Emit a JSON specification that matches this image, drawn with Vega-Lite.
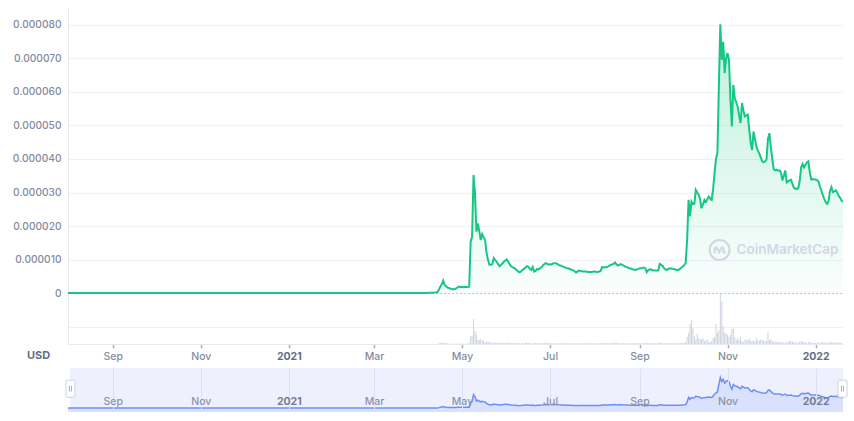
{
"$schema": "https://vega.github.io/schema/vega-lite/v6.json",
"autosize": {"type": "none"},
"width": 775,
"height": 404,
"padding": {"left": 68, "top": 8, "right": 11, "bottom": 9},
"background": "white",
"config": {"font": "Inter", "view": {"stroke": null}},
"datasets": {
"price": [
{"d":"2020-08-01","p":1e-9},{"d":"2020-08-15","p":2e-9},{"d":"2020-09-01","p":2e-9},{"d":"2020-09-15","p":1e-9},{"d":"2020-10-01","p":1e-9},{"d":"2020-10-15","p":1e-9},{"d":"2020-11-01","p":1e-9},{"d":"2020-11-15","p":1e-9},{"d":"2020-12-01","p":1e-9},{"d":"2020-12-15","p":1e-9},{"d":"2021-01-01","p":2e-9},{"d":"2021-01-15","p":3e-9},{"d":"2021-02-01","p":1e-8},{"d":"2021-02-15","p":1.5e-8},{"d":"2021-03-01","p":1e-8},{"d":"2021-03-15","p":1.2e-8},{"d":"2021-04-01","p":2e-8},{"d":"2021-04-05","p":3e-8},{"d":"2021-04-08","p":5e-8},{"d":"2021-04-10","p":8e-8},{"d":"2021-04-12","p":1.5e-7},{"d":"2021-04-13","p":2e-7},{"d":"2021-04-14","p":3e-7},
{"d":"2021-04-15","p":1.0e-6},{"d":"2021-04-16","p":1.9e-6},{"d":"2021-04-17","p":2.6e-6},{"d":"2021-04-18","p":3.7e-6},{"d":"2021-04-19","p":2.4e-6},{"d":"2021-04-20","p":2.0e-6},{"d":"2021-04-21","p":1.6e-6},{"d":"2021-04-22","p":1.5e-6},{"d":"2021-04-23","p":1.3e-6},{"d":"2021-04-24","p":1.2e-6},{"d":"2021-04-25","p":1.1e-6},{"d":"2021-04-26","p":1.2e-6},{"d":"2021-04-27","p":1.4e-6},{"d":"2021-04-28","p":1.7e-6},{"d":"2021-04-29","p":1.9e-6},{"d":"2021-04-30","p":1.8e-6},
{"d":"2021-05-01","p":1.8e-6},{"d":"2021-05-02","p":1.7e-6},{"d":"2021-05-03","p":1.8e-6},{"d":"2021-05-04","p":1.8e-6},{"d":"2021-05-05","p":1.7e-6},{"d":"2021-05-06","p":1.9e-6},{"d":"2021-05-07","p":15.3e-6},{"d":"2021-05-08","p":16.8e-6},{"d":"2021-05-09","p":35.2e-6},{"d":"2021-05-10","p":29.8e-6},{"d":"2021-05-11","p":18.3e-6},{"d":"2021-05-12","p":20.8e-6},{"d":"2021-05-13","p":18.3e-6},{"d":"2021-05-14","p":15.8e-6},{"d":"2021-05-15","p":17.6e-6},{"d":"2021-05-16","p":16.6e-6},{"d":"2021-05-17","p":15.8e-6},{"d":"2021-05-18","p":12.0e-6},{"d":"2021-05-19","p":9.9e-6},{"d":"2021-05-20","p":8.4e-6},{"d":"2021-05-21","p":8.4e-6},{"d":"2021-05-22","p":8.6e-6},{"d":"2021-05-23","p":10.4e-6},{"d":"2021-05-24","p":9.8e-6},{"d":"2021-05-25","p":9.4e-6},{"d":"2021-05-26","p":8.6e-6},{"d":"2021-05-27","p":8.0e-6},{"d":"2021-05-28","p":8.4e-6},{"d":"2021-05-29","p":8.8e-6},{"d":"2021-05-30","p":9.3e-6},{"d":"2021-05-31","p":9.7e-6},
{"d":"2021-06-01","p":10.0e-6},{"d":"2021-06-02","p":9.4e-6},{"d":"2021-06-03","p":8.6e-6},{"d":"2021-06-04","p":8.0e-6},{"d":"2021-06-05","p":7.7e-6},{"d":"2021-06-06","p":7.5e-6},{"d":"2021-06-07","p":7.2e-6},{"d":"2021-06-08","p":6.8e-6},{"d":"2021-06-09","p":6.4e-6},{"d":"2021-06-10","p":6.2e-6},{"d":"2021-06-11","p":6.5e-6},{"d":"2021-06-12","p":6.9e-6},{"d":"2021-06-13","p":7.2e-6},{"d":"2021-06-14","p":7.6e-6},{"d":"2021-06-15","p":8.0e-6},{"d":"2021-06-16","p":7.8e-6},{"d":"2021-06-17","p":7.2e-6},{"d":"2021-06-18","p":6.9e-6},{"d":"2021-06-19","p":7.8e-6},{"d":"2021-06-20","p":6.4e-6},{"d":"2021-06-21","p":6.6e-6},{"d":"2021-06-22","p":7.2e-6},{"d":"2021-06-23","p":7.0e-6},{"d":"2021-06-24","p":7.4e-6},{"d":"2021-06-25","p":7.6e-6},{"d":"2021-06-26","p":8.2e-6},{"d":"2021-06-27","p":8.6e-6},{"d":"2021-06-28","p":8.9e-6},{"d":"2021-06-29","p":8.7e-6},{"d":"2021-06-30","p":8.5e-6},
{"d":"2021-07-01","p":8.6e-6},{"d":"2021-07-02","p":8.5e-6},{"d":"2021-07-03","p":8.8e-6},{"d":"2021-07-04","p":8.9e-6},{"d":"2021-07-05","p":8.9e-6},{"d":"2021-07-06","p":8.7e-6},{"d":"2021-07-07","p":8.4e-6},{"d":"2021-07-08","p":8.2e-6},{"d":"2021-07-09","p":8.1e-6},{"d":"2021-07-10","p":7.9e-6},{"d":"2021-07-11","p":7.7e-6},{"d":"2021-07-12","p":7.5e-6},{"d":"2021-07-13","p":7.4e-6},{"d":"2021-07-14","p":7.3e-6},{"d":"2021-07-15","p":7.1e-6},{"d":"2021-07-16","p":6.9e-6},{"d":"2021-07-17","p":6.8e-6},{"d":"2021-07-18","p":6.5e-6},{"d":"2021-07-19","p":6.1e-6},{"d":"2021-07-20","p":6.4e-6},{"d":"2021-07-21","p":6.7e-6},{"d":"2021-07-22","p":6.6e-6},{"d":"2021-07-23","p":6.5e-6},{"d":"2021-07-24","p":6.4e-6},{"d":"2021-07-25","p":6.4e-6},{"d":"2021-07-26","p":6.4e-6},{"d":"2021-07-27","p":6.3e-6},{"d":"2021-07-28","p":6.3e-6},{"d":"2021-07-29","p":6.3e-6},{"d":"2021-07-30","p":6.3e-6},{"d":"2021-07-31","p":6.4e-6},
{"d":"2021-08-01","p":6.4e-6},{"d":"2021-08-02","p":6.3e-6},{"d":"2021-08-03","p":6.3e-6},{"d":"2021-08-04","p":6.4e-6},{"d":"2021-08-05","p":6.5e-6},{"d":"2021-08-06","p":7.7e-6},{"d":"2021-08-07","p":7.6e-6},{"d":"2021-08-08","p":7.7e-6},{"d":"2021-08-09","p":7.7e-6},{"d":"2021-08-10","p":7.9e-6},{"d":"2021-08-11","p":8.1e-6},{"d":"2021-08-12","p":8.4e-6},{"d":"2021-08-13","p":8.5e-6},{"d":"2021-08-14","p":8.7e-6},{"d":"2021-08-15","p":9.1e-6},{"d":"2021-08-16","p":8.6e-6},{"d":"2021-08-17","p":8.2e-6},{"d":"2021-08-18","p":8.4e-6},{"d":"2021-08-19","p":8.6e-6},{"d":"2021-08-20","p":8.4e-6},{"d":"2021-08-21","p":8.2e-6},{"d":"2021-08-22","p":7.9e-6},{"d":"2021-08-23","p":7.8e-6},{"d":"2021-08-24","p":7.6e-6},{"d":"2021-08-25","p":7.4e-6},{"d":"2021-08-26","p":7.3e-6},{"d":"2021-08-27","p":7.1e-6},{"d":"2021-08-28","p":7.0e-6},{"d":"2021-08-29","p":6.9e-6},{"d":"2021-08-30","p":7.0e-6},{"d":"2021-08-31","p":7.2e-6},
{"d":"2021-09-01","p":7.3e-6},{"d":"2021-09-02","p":7.4e-6},{"d":"2021-09-03","p":7.5e-6},{"d":"2021-09-04","p":7.6e-6},{"d":"2021-09-05","p":7.4e-6},{"d":"2021-09-06","p":6.2e-6},{"d":"2021-09-07","p":6.8e-6},{"d":"2021-09-08","p":7.1e-6},{"d":"2021-09-09","p":7.0e-6},{"d":"2021-09-10","p":6.8e-6},{"d":"2021-09-11","p":6.7e-6},{"d":"2021-09-12","p":6.7e-6},{"d":"2021-09-13","p":6.7e-6},{"d":"2021-09-14","p":6.7e-6},{"d":"2021-09-15","p":8.7e-6},{"d":"2021-09-16","p":8.4e-6},{"d":"2021-09-17","p":8.1e-6},{"d":"2021-09-18","p":7.4e-6},{"d":"2021-09-19","p":7.0e-6},{"d":"2021-09-20","p":6.9e-6},{"d":"2021-09-21","p":7.2e-6},{"d":"2021-09-22","p":7.4e-6},{"d":"2021-09-23","p":7.3e-6},{"d":"2021-09-24","p":7.2e-6},{"d":"2021-09-25","p":7.1e-6},{"d":"2021-09-26","p":7.0e-6},{"d":"2021-09-27","p":6.9e-6},{"d":"2021-09-28","p":6.9e-6},{"d":"2021-09-29","p":7.2e-6},{"d":"2021-09-30","p":7.6e-6},
{"d":"2021-10-01","p":7.9e-6},{"d":"2021-10-02","p":8.3e-6},{"d":"2021-10-03","p":9.0e-6},{"d":"2021-10-04","p":16.0e-6},{"d":"2021-10-05","p":27.8e-6},{"d":"2021-10-06","p":22.9e-6},{"d":"2021-10-07","p":27.3e-6},{"d":"2021-10-08","p":26.5e-6},{"d":"2021-10-09","p":26.6e-6},{"d":"2021-10-10","p":30.8e-6},{"d":"2021-10-11","p":30.0e-6},{"d":"2021-10-12","p":29.3e-6},{"d":"2021-10-13","p":28.0e-6},{"d":"2021-10-14","p":25.3e-6},{"d":"2021-10-15","p":26.5e-6},{"d":"2021-10-16","p":27.8e-6},{"d":"2021-10-17","p":27.2e-6},{"d":"2021-10-18","p":28.0e-6},{"d":"2021-10-19","p":28.8e-6},{"d":"2021-10-20","p":28.2e-6},{"d":"2021-10-21","p":27.8e-6},{"d":"2021-10-22","p":31.0e-6},{"d":"2021-10-23","p":35.8e-6},{"d":"2021-10-24","p":40.0e-6},{"d":"2021-10-25","p":42.0e-6},{"d":"2021-10-26","p":62.0e-6},{"d":"2021-10-27","p":80.2e-6},{"d":"2021-10-28","p":69.6e-6},{"d":"2021-10-29","p":75.0e-6},{"d":"2021-10-30","p":65.6e-6},{"d":"2021-10-31","p":70.0e-6},
{"d":"2021-11-01","p":71.6e-6},{"d":"2021-11-02","p":69.6e-6},{"d":"2021-11-03","p":57.7e-6},{"d":"2021-11-04","p":49.7e-6},{"d":"2021-11-05","p":62.1e-6},{"d":"2021-11-06","p":58.2e-6},{"d":"2021-11-07","p":57.0e-6},{"d":"2021-11-08","p":55.7e-6},{"d":"2021-11-09","p":53.0e-6},{"d":"2021-11-10","p":50.7e-6},{"d":"2021-11-11","p":56.7e-6},{"d":"2021-11-12","p":54.5e-6},{"d":"2021-11-13","p":52.7e-6},{"d":"2021-11-14","p":53.0e-6},{"d":"2021-11-15","p":53.2e-6},{"d":"2021-11-16","p":49.0e-6},{"d":"2021-11-17","p":45.0e-6},{"d":"2021-11-18","p":42.7e-6},{"d":"2021-11-19","p":48.2e-6},{"d":"2021-11-20","p":46.0e-6},{"d":"2021-11-21","p":43.7e-6},{"d":"2021-11-22","p":42.5e-6},{"d":"2021-11-23","p":41.7e-6},{"d":"2021-11-24","p":40.5e-6},{"d":"2021-11-25","p":39.3e-6},{"d":"2021-11-26","p":39.0e-6},{"d":"2021-11-27","p":39.3e-6},{"d":"2021-11-28","p":39.8e-6},{"d":"2021-11-29","p":46.0e-6},{"d":"2021-11-30","p":47.7e-6},
{"d":"2021-12-01","p":43.5e-6},{"d":"2021-12-02","p":40.0e-6},{"d":"2021-12-03","p":37.0e-6},{"d":"2021-12-04","p":36.6e-6},{"d":"2021-12-05","p":36.8e-6},{"d":"2021-12-06","p":36.5e-6},{"d":"2021-12-07","p":36.6e-6},{"d":"2021-12-08","p":36.0e-6},{"d":"2021-12-09","p":33.6e-6},{"d":"2021-12-10","p":35.0e-6},{"d":"2021-12-11","p":36.6e-6},{"d":"2021-12-12","p":33.0e-6},{"d":"2021-12-13","p":33.3e-6},{"d":"2021-12-14","p":33.6e-6},{"d":"2021-12-15","p":33.8e-6},{"d":"2021-12-16","p":32.5e-6},{"d":"2021-12-17","p":31.4e-6},{"d":"2021-12-18","p":31.2e-6},{"d":"2021-12-19","p":31.0e-6},{"d":"2021-12-20","p":31.3e-6},{"d":"2021-12-21","p":33.5e-6},{"d":"2021-12-22","p":37.5e-6},{"d":"2021-12-23","p":38.5e-6},{"d":"2021-12-24","p":37.5e-6},{"d":"2021-12-25","p":38.3e-6},{"d":"2021-12-26","p":39.0e-6},{"d":"2021-12-27","p":39.3e-6},{"d":"2021-12-28","p":36.0e-6},{"d":"2021-12-29","p":33.9e-6},{"d":"2021-12-30","p":34.0e-6},{"d":"2021-12-31","p":33.9e-6},
{"d":"2022-01-01","p":33.9e-6},{"d":"2022-01-02","p":33.7e-6},{"d":"2022-01-03","p":33.3e-6},{"d":"2022-01-04","p":31.8e-6},{"d":"2022-01-05","p":30.6e-6},{"d":"2022-01-06","p":29.3e-6},{"d":"2022-01-07","p":28.1e-6},{"d":"2022-01-08","p":27.2e-6},{"d":"2022-01-09","p":26.6e-6},{"d":"2022-01-10","p":27.5e-6},{"d":"2022-01-11","p":30.5e-6},{"d":"2022-01-12","p":31.6e-6},{"d":"2022-01-13","p":30.1e-6},{"d":"2022-01-14","p":30.3e-6},{"d":"2022-01-15","p":30.6e-6},{"d":"2022-01-16","p":30.0e-6},{"d":"2022-01-17","p":29.0e-6},{"d":"2022-01-18","p":28.4e-6},{"d":"2022-01-19","p":27.6e-6},{"d":"2022-01-20","p":27.2e-6}
],
"vol": [
{"d":"2021-04-15","v":0.8e9},{"d":"2021-04-16","v":1.0e9},{"d":"2021-04-17","v":1.0e9},{"d":"2021-04-18","v":0.9e9},{"d":"2021-04-19","v":0.8e9},{"d":"2021-04-20","v":0.8e9},{"d":"2021-04-21","v":0.6e9},{"d":"2021-04-22","v":0.3e9},{"d":"2021-04-23","v":0.3e9},{"d":"2021-04-24","v":0.3e9},{"d":"2021-04-25","v":0.3e9},{"d":"2021-04-26","v":0.3e9},{"d":"2021-04-27","v":0.3e9},{"d":"2021-04-28","v":0.3e9},{"d":"2021-04-29","v":0.4e9},{"d":"2021-04-30","v":0.4e9},
{"d":"2021-05-01","v":0.3e9},{"d":"2021-05-02","v":0.3e9},{"d":"2021-05-03","v":0.3e9},{"d":"2021-05-04","v":0.3e9},{"d":"2021-05-05","v":0.4e9},{"d":"2021-05-06","v":1.0e9},{"d":"2021-05-07","v":7.0e9},{"d":"2021-05-08","v":7.2e9},{"d":"2021-05-09","v":22.0e9},{"d":"2021-05-10","v":11.5e9},{"d":"2021-05-11","v":8.5e9},{"d":"2021-05-12","v":3.5e9},{"d":"2021-05-13","v":3.6e9},{"d":"2021-05-14","v":4.2e9},{"d":"2021-05-15","v":3.0e9},{"d":"2021-05-16","v":3.0e9},{"d":"2021-05-17","v":1.8e9},{"d":"2021-05-18","v":1.8e9},{"d":"2021-05-19","v":2.4e9},{"d":"2021-05-20","v":1.8e9},{"d":"2021-05-21","v":1.2e9},{"d":"2021-05-22","v":1.0e9},{"d":"2021-05-23","v":1.2e9},{"d":"2021-05-24","v":1.0e9},{"d":"2021-05-25","v":0.9e9},{"d":"2021-05-26","v":0.9e9},{"d":"2021-05-27","v":0.8e9},{"d":"2021-05-28","v":0.9e9},{"d":"2021-05-29","v":0.8e9},{"d":"2021-05-30","v":0.8e9},{"d":"2021-05-31","v":0.9e9},
{"d":"2021-06-01","v":1.4e9},{"d":"2021-06-02","v":0.9e9},{"d":"2021-06-03","v":0.8e9},{"d":"2021-06-04","v":0.8e9},{"d":"2021-06-05","v":0.8e9},{"d":"2021-06-06","v":0.7e9},{"d":"2021-06-07","v":0.7e9},{"d":"2021-06-08","v":0.8e9},{"d":"2021-06-09","v":0.8e9},{"d":"2021-06-10","v":0.7e9},{"d":"2021-06-11","v":0.7e9},{"d":"2021-06-12","v":0.7e9},{"d":"2021-06-13","v":0.7e9},{"d":"2021-06-14","v":1.4e9},{"d":"2021-06-15","v":0.9e9},{"d":"2021-06-16","v":0.8e9},{"d":"2021-06-17","v":0.7e9},{"d":"2021-06-18","v":0.7e9},{"d":"2021-06-19","v":0.7e9},{"d":"2021-06-20","v":0.7e9},{"d":"2021-06-21","v":0.9e9},{"d":"2021-06-22","v":0.9e9},{"d":"2021-06-23","v":0.8e9},{"d":"2021-06-24","v":0.7e9},{"d":"2021-06-25","v":0.7e9},{"d":"2021-06-26","v":0.7e9},{"d":"2021-06-27","v":0.7e9},{"d":"2021-06-28","v":1.5e9},{"d":"2021-06-29","v":0.8e9},{"d":"2021-06-30","v":0.7e9},
{"d":"2021-07-01","v":0.7e9},{"d":"2021-07-02","v":0.7e9},{"d":"2021-07-03","v":0.6e9},{"d":"2021-07-04","v":0.7e9},{"d":"2021-07-05","v":0.7e9},{"d":"2021-07-06","v":0.7e9},{"d":"2021-07-07","v":0.7e9},{"d":"2021-07-08","v":0.7e9},{"d":"2021-07-09","v":0.6e9},{"d":"2021-07-10","v":0.6e9},{"d":"2021-07-11","v":0.6e9},{"d":"2021-07-12","v":0.7e9},{"d":"2021-07-13","v":0.7e9},{"d":"2021-07-14","v":0.7e9},{"d":"2021-07-15","v":0.7e9},{"d":"2021-07-16","v":0.6e9},{"d":"2021-07-17","v":0.6e9},{"d":"2021-07-18","v":0.6e9},{"d":"2021-07-19","v":0.7e9},{"d":"2021-07-20","v":0.7e9},{"d":"2021-07-21","v":0.7e9},{"d":"2021-07-22","v":0.6e9},{"d":"2021-07-23","v":0.6e9},{"d":"2021-07-24","v":0.6e9},{"d":"2021-07-25","v":0.6e9},{"d":"2021-07-26","v":0.7e9},{"d":"2021-07-27","v":0.7e9},{"d":"2021-07-28","v":0.6e9},{"d":"2021-07-29","v":0.6e9},{"d":"2021-07-30","v":0.6e9},{"d":"2021-07-31","v":0.6e9},
{"d":"2021-08-01","v":0.6e9},{"d":"2021-08-02","v":0.6e9},{"d":"2021-08-03","v":0.6e9},{"d":"2021-08-04","v":0.6e9},{"d":"2021-08-05","v":0.7e9},{"d":"2021-08-06","v":1.1e9},{"d":"2021-08-07","v":0.8e9},{"d":"2021-08-08","v":0.7e9},{"d":"2021-08-09","v":0.7e9},{"d":"2021-08-10","v":0.7e9},{"d":"2021-08-11","v":0.7e9},{"d":"2021-08-12","v":0.8e9},{"d":"2021-08-13","v":0.8e9},{"d":"2021-08-14","v":0.9e9},{"d":"2021-08-15","v":1.4e9},{"d":"2021-08-16","v":0.9e9},{"d":"2021-08-17","v":0.8e9},{"d":"2021-08-18","v":0.7e9},{"d":"2021-08-19","v":0.7e9},{"d":"2021-08-20","v":0.7e9},{"d":"2021-08-21","v":0.6e9},{"d":"2021-08-22","v":0.6e9},{"d":"2021-08-23","v":0.7e9},{"d":"2021-08-24","v":0.7e9},{"d":"2021-08-25","v":0.6e9},{"d":"2021-08-26","v":0.6e9},{"d":"2021-08-27","v":0.6e9},{"d":"2021-08-28","v":0.6e9},{"d":"2021-08-29","v":0.6e9},{"d":"2021-08-30","v":0.7e9},{"d":"2021-08-31","v":0.7e9},
{"d":"2021-09-01","v":0.7e9},{"d":"2021-09-02","v":0.7e9},{"d":"2021-09-03","v":0.8e9},{"d":"2021-09-04","v":0.7e9},{"d":"2021-09-05","v":0.7e9},{"d":"2021-09-06","v":1.3e9},{"d":"2021-09-07","v":1.0e9},{"d":"2021-09-08","v":0.7e9},{"d":"2021-09-09","v":0.7e9},{"d":"2021-09-10","v":0.7e9},{"d":"2021-09-11","v":0.6e9},{"d":"2021-09-12","v":0.6e9},{"d":"2021-09-13","v":0.7e9},{"d":"2021-09-14","v":0.7e9},{"d":"2021-09-15","v":1.8e9},{"d":"2021-09-16","v":1.0e9},{"d":"2021-09-17","v":0.8e9},{"d":"2021-09-18","v":0.7e9},{"d":"2021-09-19","v":0.6e9},{"d":"2021-09-20","v":0.7e9},{"d":"2021-09-21","v":0.8e9},{"d":"2021-09-22","v":0.7e9},{"d":"2021-09-23","v":0.7e9},{"d":"2021-09-24","v":0.7e9},{"d":"2021-09-25","v":0.6e9},{"d":"2021-09-26","v":0.6e9},{"d":"2021-09-27","v":0.7e9},{"d":"2021-09-28","v":0.7e9},{"d":"2021-09-29","v":0.7e9},{"d":"2021-09-30","v":0.8e9},
{"d":"2021-10-01","v":1.0e9},{"d":"2021-10-02","v":1.2e9},{"d":"2021-10-03","v":2.0e9},{"d":"2021-10-04","v":6.5e9},{"d":"2021-10-05","v":10.0e9},{"d":"2021-10-06","v":17.6e9},{"d":"2021-10-07","v":21.0e9},{"d":"2021-10-08","v":14.4e9},{"d":"2021-10-09","v":7.0e9},{"d":"2021-10-10","v":4.0e9},{"d":"2021-10-11","v":8.8e9},{"d":"2021-10-12","v":5.0e9},{"d":"2021-10-13","v":4.0e9},{"d":"2021-10-14","v":4.5e9},{"d":"2021-10-15","v":5.0e9},{"d":"2021-10-16","v":2.6e9},{"d":"2021-10-17","v":3.5e9},{"d":"2021-10-18","v":4.0e9},{"d":"2021-10-19","v":1.8e9},{"d":"2021-10-20","v":1.8e9},{"d":"2021-10-21","v":2.5e9},{"d":"2021-10-22","v":5.0e9},{"d":"2021-10-23","v":6.0e9},{"d":"2021-10-24","v":17.6e9},{"d":"2021-10-25","v":10.0e9},{"d":"2021-10-26","v":12.3e9},{"d":"2021-10-27","v":44.6e9},{"d":"2021-10-28","v":37.3e9},{"d":"2021-10-29","v":15.9e9},{"d":"2021-10-30","v":9.4e9},{"d":"2021-10-31","v":9.4e9},
{"d":"2021-11-01","v":8.0e9},{"d":"2021-11-02","v":6.5e9},{"d":"2021-11-03","v":7.9e9},{"d":"2021-11-04","v":13.2e9},{"d":"2021-11-05","v":13.8e9},{"d":"2021-11-06","v":6.5e9},{"d":"2021-11-07","v":3.5e9},{"d":"2021-11-08","v":5.0e9},{"d":"2021-11-09","v":3.5e9},{"d":"2021-11-10","v":6.5e9},{"d":"2021-11-11","v":3.0e9},{"d":"2021-11-12","v":2.0e9},{"d":"2021-11-13","v":3.5e9},{"d":"2021-11-14","v":4.0e9},{"d":"2021-11-15","v":3.0e9},{"d":"2021-11-16","v":5.0e9},{"d":"2021-11-17","v":2.6e9},{"d":"2021-11-18","v":2.6e9},{"d":"2021-11-19","v":3.0e9},{"d":"2021-11-20","v":2.2e9},{"d":"2021-11-21","v":5.0e9},{"d":"2021-11-22","v":3.5e9},{"d":"2021-11-23","v":3.0e9},{"d":"2021-11-24","v":4.0e9},{"d":"2021-11-25","v":3.0e9},{"d":"2021-11-26","v":3.5e9},{"d":"2021-11-27","v":2.2e9},{"d":"2021-11-28","v":2.6e9},{"d":"2021-11-29","v":10.3e9},{"d":"2021-11-30","v":3.5e9},
{"d":"2021-12-01","v":4.0e9},{"d":"2021-12-02","v":3.0e9},{"d":"2021-12-03","v":2.0e9},{"d":"2021-12-04","v":2.2e9},{"d":"2021-12-05","v":1.8e9},{"d":"2021-12-06","v":1.8e9},{"d":"2021-12-07","v":1.5e9},{"d":"2021-12-08","v":1.5e9},{"d":"2021-12-09","v":1.3e9},{"d":"2021-12-10","v":1.5e9},{"d":"2021-12-11","v":1.2e9},{"d":"2021-12-12","v":1.3e9},{"d":"2021-12-13","v":2.0e9},{"d":"2021-12-14","v":2.6e9},{"d":"2021-12-15","v":2.6e9},{"d":"2021-12-16","v":2.2e9},{"d":"2021-12-17","v":1.5e9},{"d":"2021-12-18","v":1.3e9},{"d":"2021-12-19","v":1.2e9},{"d":"2021-12-20","v":1.5e9},{"d":"2021-12-21","v":2.0e9},{"d":"2021-12-22","v":2.5e9},{"d":"2021-12-23","v":2.2e9},{"d":"2021-12-24","v":1.8e9},{"d":"2021-12-25","v":1.3e9},{"d":"2021-12-26","v":1.2e9},{"d":"2021-12-27","v":1.8e9},{"d":"2021-12-28","v":1.8e9},{"d":"2021-12-29","v":1.3e9},{"d":"2021-12-30","v":1.2e9},{"d":"2021-12-31","v":1.0e9},
{"d":"2022-01-01","v":0.8e9},{"d":"2022-01-02","v":0.8e9},{"d":"2022-01-03","v":1.0e9},{"d":"2022-01-04","v":1.2e9},{"d":"2022-01-05","v":1.5e9},{"d":"2022-01-06","v":1.5e9},{"d":"2022-01-07","v":1.2e9},{"d":"2022-01-08","v":1.0e9},{"d":"2022-01-09","v":0.8e9},{"d":"2022-01-10","v":1.3e9},{"d":"2022-01-11","v":1.5e9},{"d":"2022-01-12","v":1.5e9},{"d":"2022-01-13","v":1.2e9},{"d":"2022-01-14","v":1.3e9},{"d":"2022-01-15","v":1.0e9},{"d":"2022-01-16","v":1.0e9},{"d":"2022-01-17","v":1.3e9},{"d":"2022-01-18","v":1.2e9},{"d":"2022-01-19","v":1.0e9}
],
"logo": [{"d":"2021-10-26T12:00:00Z","p":12.84e-6}],
"brand": [{"d":"2021-11-07T05:00:00Z","p":12.84e-6,"t":"CoinMarketCap"}],
"navbg": [{"d":"2020-08-02T12:00:00Z","d2":"2022-01-20","lo":-10.49e-6,"hi":104.92e-6}],
"handles": [{"d":"2020-08-02T16:00:00Z","p":50.6e-6},{"d":"2022-01-19T16:00:00Z","p":50.6e-6}]
},
"layer": [
{
"encoding": {
"x": {"field": "d", "type": "temporal",
"scale": {"type": "utc", "padding": 0, "domain": [{"year":2020,"month":8,"date":1,"utc":true},{"year":2022,"month":1,"date":20,"utc":true}]},
"axis": {"title": null, "orient": "top", "offset": -360, "zindex": 1,
"values": [{"year":2020,"month":9,"date":1,"utc":true},{"year":2020,"month":11,"date":1,"utc":true},{"year":2021,"month":1,"date":1,"utc":true},{"year":2021,"month":3,"date":1,"utc":true},{"year":2021,"month":5,"date":1,"utc":true},{"year":2021,"month":7,"date":1,"utc":true},{"year":2021,"month":9,"date":1,"utc":true},{"year":2021,"month":11,"date":1,"utc":true},{"year":2022,"month":1,"date":1,"utc":true}],
"labelExpr": "utcmonth(datum.value) === 0 ? utcFormat(datum.value, '%Y') : utcFormat(datum.value, '%b')",
"domain": false, "grid": false, "ticks": true, "tickSize": -44, "tickColor": "#dbe1f4", "tickWidth": 1,
"labelPadding": 11, "labelBaseline": "middle", "labelFont": "Inter", "labelFontSize": 10.5, "labelFlush": false,
"labelFontWeight": {"condition": {"test": "utcmonth(datum.value) === 0", "value": 700}, "value": 500},
"labelColor": {"condition": {"test": "utcmonth(datum.value) === 0", "value": "#737d94"}, "value": "#8a93ab"}}
},
"y": {"field": "p", "type": "quantitative", "scale": {"domain": [-10.49e-6, 104.92e-6], "range": [404, 360], "nice": false, "zero": false}, "axis": null}
},
"layer": [
{"data": {"name": "navbg"}, "mark": {"type": "rect", "color": "#eef1fd"},
"encoding": {"x2": {"field": "d2"}, "y": {"field": "lo", "type": "quantitative"}, "y2": {"field": "hi"}}},
{"data": {"name": "price"}, "mark": {"type": "area", "color": "#d9e1fc"}, "encoding": {"y2": {"datum": -10.49e-6}}},
{"data": {"name": "price"}, "mark": {"type": "line", "color": "#6e8ef7", "strokeWidth": 1.5}},
{"data": {"name": "handles"}, "mark": {"type": "point", "shape": "M-0.53,-0.85 Q-0.53,-1 -0.38,-1 L0.38,-1 Q0.53,-1 0.53,-0.85 L0.53,0.85 Q0.53,1 0.38,1 L-0.38,1 Q-0.53,1 -0.53,0.85 Z", "size": 289, "filled": true, "fill": "white", "stroke": "#cfd3dd", "strokeWidth": 1, "opacity": 1}},
{"data": {"name": "handles"}, "mark": {"type": "point", "shape": "M-0.12,-0.35 L-0.12,0.35 M0.12,-0.35 L0.12,0.35", "size": 289, "filled": false, "stroke": "#a6b0c3", "strokeWidth": 1, "opacity": 1}}
]
},
{
"encoding": {
"x": {"field": "d", "type": "temporal",
"scale": {"type": "utc", "padding": 0, "domain": [{"year":2020,"month":8,"date":1,"utc":true},{"year":2022,"month":1,"date":20,"utc":true}]},
"axis": {"title": null, "orient": "bottom", "offset": -68,
"values": [{"year":2020,"month":9,"date":1,"utc":true},{"year":2020,"month":11,"date":1,"utc":true},{"year":2021,"month":1,"date":1,"utc":true},{"year":2021,"month":3,"date":1,"utc":true},{"year":2021,"month":5,"date":1,"utc":true},{"year":2021,"month":7,"date":1,"utc":true},{"year":2021,"month":9,"date":1,"utc":true},{"year":2021,"month":11,"date":1,"utc":true},{"year":2022,"month":1,"date":1,"utc":true}],
"labelExpr": "utcmonth(datum.value) === 0 ? utcFormat(datum.value, '%Y') : utcFormat(datum.value, '%b')",
"grid": false, "domain": true, "domainColor": "#e6e9ef", "ticks": true, "tickSize": 4, "tickWidth": 1.5, "tickColor": "#a6b0c3",
"labelPadding": 3, "labelFont": "Inter", "labelFontSize": 10.5, "labelFlush": false,
"labelFontWeight": {"condition": {"test": "utcmonth(datum.value) === 0", "value": 700}, "value": 500},
"labelColor": {"condition": {"test": "utcmonth(datum.value) === 0", "value": "#616e85"}, "value": "#858ca2"}}
},
"y": {"field": "p", "type": "quantitative",
"scale": {"domain": [-15.22e-6, 85.07e-6], "range": [336, 0], "nice": false, "zero": false},
"axis": {"orient": "left", "values": [0, 1e-5, 2e-5, 3e-5, 4e-5, 5e-5, 6e-5, 7e-5, 8e-5],
"labelExpr": "datum.value === 0 ? '0' : format(datum.value, '.6f')",
"ticks": false, "domain": true, "domainColor": "#e6e9ef",
"grid": true,
"gridColor": {"condition": {"test": "datum.value === 0", "value": "#a6b0c3"}, "value": "#eff2f5"},
"gridDash": {"condition": {"test": "datum.value === 0", "value": [1.5, 2.5]}, "value": []},
"labelPadding": 7, "labelFont": "Inter", "labelFontSize": 10.2, "labelFontWeight": 500, "labelColor": "#858ca2",
"title": "USD", "titleAngle": 0, "titleX": -30, "titleY": 347, "titleAlign": "center", "titleBaseline": "middle",
"titleFont": "Inter", "titleFontSize": 11, "titleFontWeight": 700, "titleColor": "#616e85"}
}
},
"layer": [
{"data": {"name": "price"},
"mark": {"type": "area", "color": {"gradient": "linear", "x1": 0, "y1": 0, "x2": 0, "y2": 1, "stops": [{"offset": 0, "color": "rgba(22,199,132,0.28)"}, {"offset": 1, "color": "rgba(22,199,132,0.02)"}]}},
"encoding": {"y2": {"datum": 0}}},
{"data": {"name": "price"},
"mark": {"type": "line", "color": "#16c784", "strokeWidth": 2}},
{"data": {"name": "logo"},
"mark": {"type": "point", "shape": "circle", "size": 400, "filled": false, "stroke": "#d3d6e4", "strokeWidth": 2.2, "opacity": 1}},
{"data": {"name": "logo"},
"mark": {"type": "point", "shape": "M-0.5,0.35 L-0.5,-0.1 Q-0.4,-0.45 -0.22,-0.1 L-0.05,0.22 L0.12,-0.12 Q0.28,-0.45 0.38,-0.05 L0.38,0.15 Q0.42,0.32 0.6,0.22", "size": 400, "filled": false, "stroke": "#d3d6e4", "strokeWidth": 2.2, "opacity": 1}},
{"data": {"name": "brand"},
"mark": {"type": "text", "align": "left", "baseline": "middle", "font": "Inter", "fontSize": 13.5, "fontWeight": 600, "color": "#d3d6e4"},
"encoding": {"text": {"field": "t"}}}
]
},
{"data": {"name": "vol"},
"mark": {"type": "bar", "color": "#cdd3df", "width": 1},
"encoding": {
"x": {"field": "d", "type": "temporal",
"scale": {"type": "utc", "padding": 0, "domain": [{"year":2020,"month":8,"date":1,"utc":true},{"year":2022,"month":1,"date":20,"utc":true}]},
"axis": null},
"y": {"field": "v", "type": "quantitative",
"scale": {"domain": [0, 45e9], "range": [336, 285], "nice": false, "zero": true},
"axis": {"orient": "right", "values": [15e9], "labels": false, "ticks": false, "domain": false, "grid": true, "gridColor": "#eff2f5", "title": null}}
}}
],
"resolve": {"scale": {"y": "independent"}, "axis": {"x": "independent", "y": "independent"}}
}
